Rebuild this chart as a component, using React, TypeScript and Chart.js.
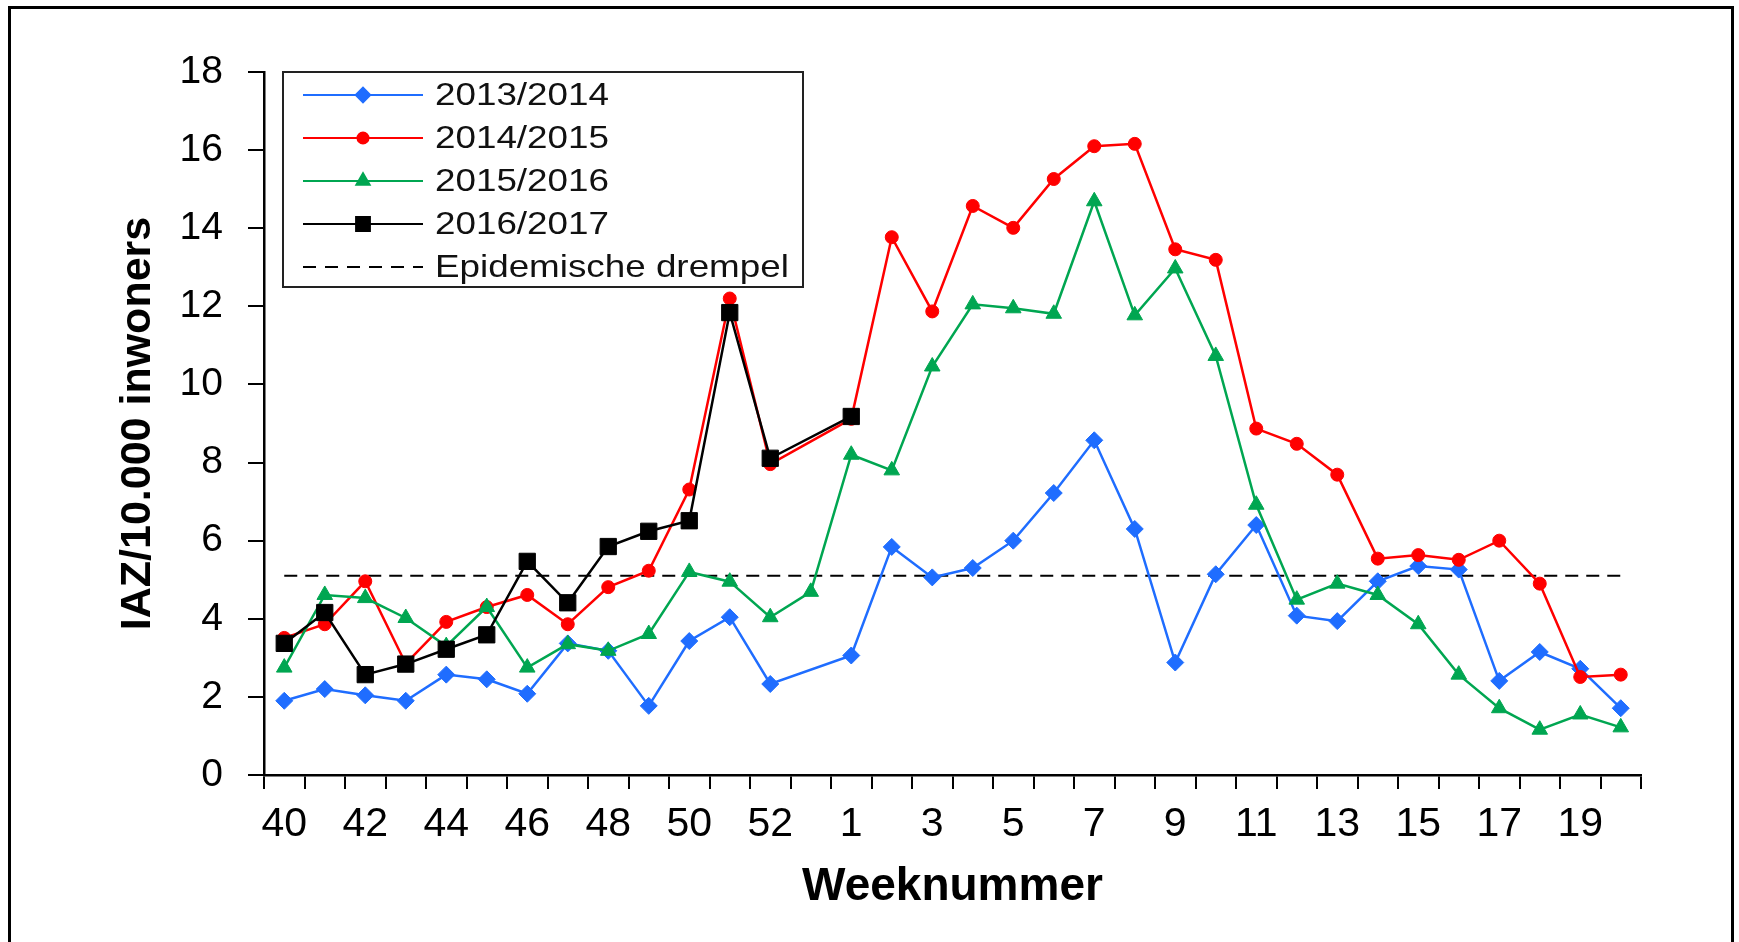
import React, { useEffect, useRef } from 'react';
import { Chart, registerables } from 'chart.js';
import { drawPoint } from 'chart.js/helpers';

Chart.register(...registerables);

const WEEKS = ['40', '41', '42', '43', '44', '45', '46', '47', '48', '49', '50', '51', '52', '53',
  '1', '2', '3', '4', '5', '6', '7', '8', '9', '10', '11', '12', '13', '14', '15', '16', '17', '18', '19', '20'];

const SERIES_LABELS = ['2013/2014', '2014/2015', '2015/2016', '2016/2017'];
const THRESHOLD_LABEL = 'Epidemische drempel';
const Y_TITLE = 'IAZ/10.000 inwoners';
const X_TITLE = 'Weeknummer';

const S_2013_2014 = [1.90, 2.20, 2.04, 1.90, 2.57, 2.45, 2.08, 3.37, 3.18, 1.77, 3.43, 4.04, 2.33, null,
  3.06, 5.84, 5.06, 5.30, 6.00, 7.22, 8.57, 6.30, 2.88, 5.14, 6.40, 4.08, 3.94, 4.96, 5.35, 5.26, 2.41, 3.15, 2.72, 1.71];
const S_2014_2015 = [3.51, 3.86, 4.96, 2.85, 3.92, 4.30, 4.61, 3.86, 4.81, 5.23, 7.31, 12.20, 7.96, null,
  9.12, 13.77, 11.87, 14.57, 14.01, 15.26, 16.10, 16.16, 13.46, 13.19, 8.87, 8.48, 7.69, 5.54, 5.63, 5.51, 6.00, 4.90, 2.51, 2.57];
const S_2015_2016 = [2.75, 4.61, 4.53, 4.02, 3.30, 4.30, 2.75, 3.35, 3.18, 3.61, 5.20, 4.95, 4.04, 4.69,
  8.20, 7.80, 10.46, 12.05, 11.95, 11.81, 14.69, 11.77, 12.97, 10.73, 6.92, 4.49, 4.90, 4.61, 3.86, 2.57, 1.71, 1.16, 1.55, 1.22];
const S_2016_2017 = [3.37, 4.16, 2.57, 2.84, 3.22, 3.59, 5.47, 4.41, 5.85, 6.24, 6.51, 11.84, 8.11, null,
  9.18, null, null, null, null, null, null, null, null, null, null, null, null, null, null, null, null, null, null, null];
const THRESHOLD = 5.1;

const Y_MIN = 0;
const Y_MAX = 18;
const Y_STEP = 2;

const FONT = "'Liberation Sans', Arial, Helvetica, sans-serif";

const legendPlugin = {
  id: 'boxLegend',
  afterDraw(chart: any) {
    const ctx = chart.ctx;
    const l = 283, t = 72, r = 803, b = 287;
    ctx.save();
    ctx.fillStyle = '#ffffff';
    ctx.fillRect(l, t, r - l, b - t);
    ctx.strokeStyle = '#222';
    ctx.lineWidth = 2;
    ctx.strokeRect(l, t, r - l, b - t);
    const rowY0 = 95;
    const rowDy = 43;
    chart.data.datasets.forEach((ds: any, i: number) => {
      const y = rowY0 + i * rowDy;
      ctx.save();
      ctx.strokeStyle = ds.borderColor;
      ctx.lineWidth = 2;
      ctx.setLineDash(ds.borderDash ? [13, 9] : []);
      ctx.beginPath();
      ctx.moveTo(303, y);
      ctx.lineTo(423, y);
      ctx.stroke();
      ctx.setLineDash([]);
      if (ds.pointRadius > 0) {
        ctx.fillStyle = ds.pointBackgroundColor;
        ctx.strokeStyle = ds.pointBorderColor;
        drawPoint(ctx, { pointStyle: ds.pointStyle, radius: ds.pointRadius * 0.85, rotation: 0, borderWidth: 1 }, 363, y);
      }
      ctx.restore();
      ctx.save();
      ctx.translate(435, y + 1);
      ctx.scale(1.15, 1);
      ctx.font = `32px ${FONT}`;
      ctx.fillStyle = '#111';
      ctx.textBaseline = 'middle';
      ctx.textAlign = 'left';
      ctx.fillText(ds.label, 0, 0);
      ctx.restore();
    });
    ctx.restore();
  },
};

export default function App() {
  const ref = useRef<HTMLCanvasElement>(null);

  useEffect(() => {
    if (!ref.current) return;
    Chart.defaults.font.family = FONT;
    const mk = (label: string, data: any[], color: string, style: string, radius: number) => ({
      label,
      data,
      borderColor: color,
      backgroundColor: color,
      pointBackgroundColor: color,
      pointBorderColor: color,
      pointStyle: style,
      pointRadius: radius,
      pointBorderWidth: 1,
      borderWidth: 2.5,
      spanGaps: true,
      tension: 0,
    });
    const chart = new Chart(ref.current, {
      type: 'line',
      data: {
        labels: WEEKS,
        datasets: [
          { ...mk(SERIES_LABELS[0], S_2013_2014, '#1f6dff', 'rectRot', 8.5), order: 4 },
          { ...mk(SERIES_LABELS[1], S_2014_2015, '#ff0000', 'circle', 6.5), order: 3 },
          { ...mk(SERIES_LABELS[2], S_2015_2016, '#00a651', 'triangle', 9), order: 2 },
          { ...mk(SERIES_LABELS[3], S_2016_2017, '#000000', 'rect', 11.5), order: 1 },
          {
            label: THRESHOLD_LABEL,
            data: WEEKS.map(() => THRESHOLD),
            borderColor: '#000000',
            backgroundColor: '#000000',
            borderWidth: 2,
            borderDash: [13, 8],
            pointRadius: 0,
            order: 5,
          } as any,
        ],
      },
      options: {
        responsive: false,
        animation: false,
        layout: { padding: { left: 0, top: 72, right: 98, bottom: 17 } },
        plugins: { legend: { display: false }, tooltip: { enabled: false } },
        scales: {
          x: {
            type: 'category',
            offset: true,
            grid: { offset: true, drawOnChartArea: false, drawTicks: true, tickLength: 14, color: '#000', lineWidth: 2 },
            border: { display: true, color: '#000', width: 2.5 },
            ticks: {
              autoSkip: false,
              maxRotation: 0,
              minRotation: 0,
              padding: 11,
              color: '#000',
              font: { size: 41 },
              callback: (_v: any, i: number) => (i % 2 === 0 ? WEEKS[i] : ''),
            },
            title: { display: true, text: X_TITLE, color: '#000', font: { size: 46, weight: 'bold' }, padding: { top: 0, bottom: 10 } },
            afterFit: (s: any) => { s.height = 150; },
          },
          y: {
            min: Y_MIN,
            max: Y_MAX,
            ticks: { stepSize: Y_STEP, padding: 25, color: '#000', font: { size: 39 } },
            grid: { drawOnChartArea: false, drawTicks: true, tickLength: 16, color: '#000', lineWidth: 2 },
            border: { display: true, color: '#000', width: 2.5 },
            title: { display: true, text: Y_TITLE, color: '#000', font: { size: 43, weight: 'bold' }, padding: { top: 112, bottom: 0 } },
            afterFit: (s: any) => { s.width = 264; },
          },
        },
      } as any,
      plugins: [legendPlugin],
    });
    return () => chart.destroy();
  }, []);

  return (
    <div style={{ position: 'fixed', left: 0, top: 0, width: 1739, height: 942, background: '#fff', overflow: 'hidden' }}>
      <div style={{ position: 'absolute', left: 8, top: 6, width: 1726, height: 1000, border: '3px solid #000', boxSizing: 'border-box' }} />
      <canvas ref={ref} width={1739} height={942} style={{ position: 'absolute', left: 0, top: 0 }} />
    </div>
  );
}
